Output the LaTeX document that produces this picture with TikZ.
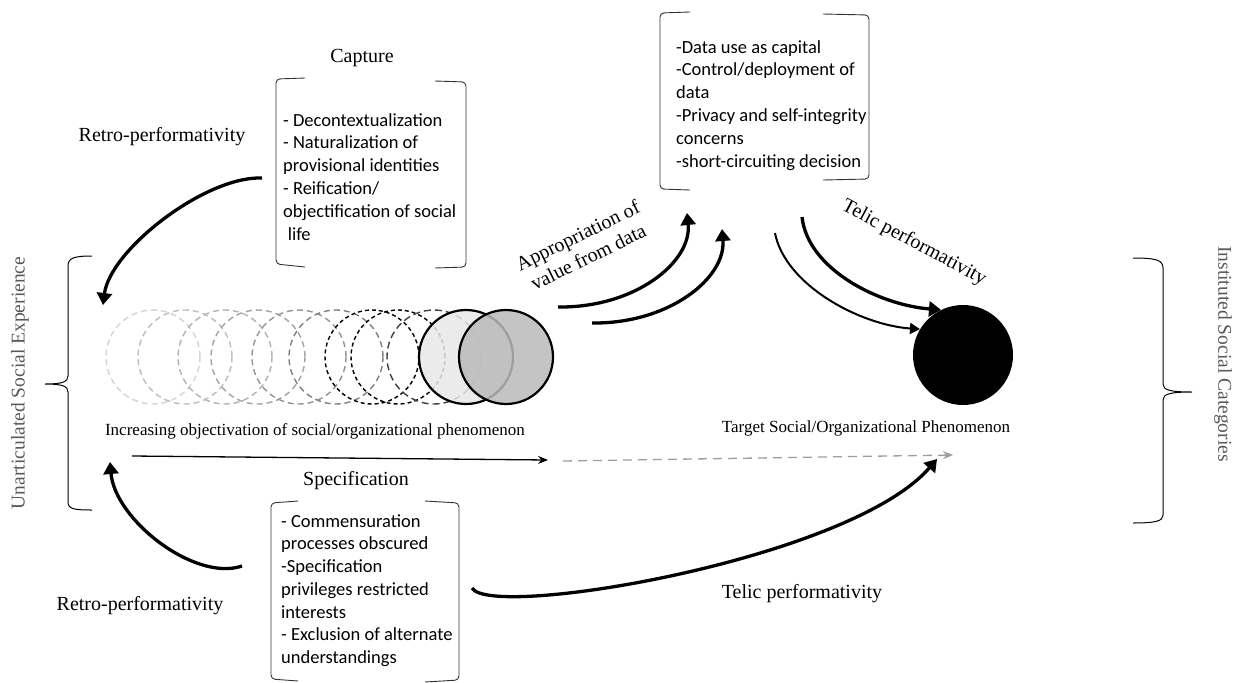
\documentclass[tikz,border=0pt]{standalone}
\usepackage{fontspec}
\setmainfont{Liberation Serif}
\setsansfont{Carlito}
\usetikzlibrary{arrows.meta}
\definecolor{sidegray}{HTML}{595959}
\tikzset{
  lbl/.style={font=\fontsize{20}{24}\selectfont},
  objlbl/.style={font=\fontsize{17}{20}\selectfont},
  sidelbl/.style={font=\fontsize{19.5}{23}\selectfont, text=sidegray},
  listtxt/.style={font=\sffamily\fontsize{18.5}{22.8}\selectfont, align=left, anchor=north west, inner sep=0pt},
  brk/.style={draw=black!80, line width=0.9pt, rounded corners=4pt},
  brace/.style={draw=black, line width=1pt},
  bendarrow/.style={line width=3.3pt, -{Triangle[length=12pt,width=15pt]}},
  ghost/.style={circle, line width=1.4pt, minimum size=94pt, inner sep=0pt, dash pattern=on 6pt off 4pt},
  solidc/.style={circle, draw=black, line width=2.2pt, minimum size=94pt, fill opacity=0.85, inner sep=0pt}
}
\begin{document}
\begin{tikzpicture}[x=1pt, y=-1pt]
\useasboundingbox (0,0) rectangle (1243,683);

\node[sidelbl, rotate=90] (unart) at (20,383) {Unarticulated Social Experience};
\node[sidelbl, rotate=-90] (inst) at (1223,354) {Instituted Social Categories};
\draw[brace] (92,256) .. controls (74,256) and (68,258) .. (68,266) -- (68,376)
  .. controls (68,382) and (62,384) .. (45,384) .. controls (62,384) and (68,386) .. (68,392)
  -- (68,502) .. controls (68,509) and (74,510) .. (92,510);
\draw[brace] (1133,258) .. controls (1156,258) and (1163,260) .. (1163,268) -- (1163,384)
  .. controls (1163,390) and (1170,392) .. (1192,392) .. controls (1170,392) and (1163,394) .. (1163,400)
  -- (1163,515) .. controls (1163,521) and (1156,523) .. (1133,523);

\node[lbl] (capture) at (362,58) {Capture};
\node[listtxt] (caplist) at (283,113) {- Decontextualization\\- Naturalization of\\provisional identities\\- Reification/\\objectification of social\\\hspace{0.25em}life};
\draw[brk] (305,78) -- (276,79) -- (276,264) -- (305,267);
\draw[brk] (435,81) -- (466,82) -- (466,267) -- (435,268);

\node[listtxt] (datalist) at (676,40) {-Data use as capital\\-Control/deployment of\\data\\-Privacy and self-integrity\\concerns\\-short-circuiting decision};
\draw[brk] (690,12) -- (660,13) -- (660,189) -- (690,190);
\draw[brk] (823,14) -- (869,15) -- (869,179) -- (823,180);

\node[lbl] (spec) at (356,481) {Specification};
\node[listtxt] (speclist) at (281,514) {- Commensuration\\processes obscured\\-Specification\\privileges restricted\\interests\\- Exclusion of alternate\\understandings};
\draw[brk] (298,501) -- (271,503) -- (271,679) -- (298,681);
\draw[brk] (425,501) -- (459,503) -- (459,680) -- (425,682);

\node[lbl] (retrotop) at (162,137) {Retro-performativity};
\node[lbl] (retrobot) at (140,606) {Retro-performativity};
\node[lbl] (telicbot) at (802,594) {Telic performativity};
\node[lbl, rotate=-28] (telictop) at (914,243) {Telic performativity};
\node[lbl, rotate=26, align=center, inner sep=0pt] (approp) at (583,246) {Appropriation of\\value from data};

\foreach \cx/\cc [count=\i] in {153/black!17, 185/black!26, 225/black!30, 258/black!36, 299/black!42, 336/black!50}
  \node[ghost, draw=\cc] (ring\i) at (\cx,357) {};
\node[ghost, draw=black, dash pattern=on 4pt off 3pt] (ring7) at (372,357) {};
\node[ghost, draw=black, dash pattern=on 4pt off 3pt] (ring8) at (398,357) {};
\node[ghost, draw=black!75, dash pattern=on 7pt off 4pt] (ring9) at (434,357) {};
\node[solidc, fill=black!9] (solid1) at (466,357) {};
\node[solidc, fill=black!27] (solid2) at (506,357) {};
\node[circle, fill=black, minimum size=100pt, inner sep=0pt] (target) at (963,355) {};

\node[objlbl] (objlbl) at (315,431) {Increasing objectivation of social/organizational phenomenon};
\node[objlbl] (tgtlbl) at (866,428) {Target Social/Organizational Phenomenon};

\coordinate (objL) at (132,456);
\coordinate (objR) at (548,460);
\coordinate (tgtL) at (563,461);
\coordinate (tgtR) at (953,455);
\draw[line width=1.3pt, -{Stealth[length=10pt,width=8pt]}] (objL) -- (objR);
\draw[black!38, line width=1.3pt, dash pattern=on 9pt off 6pt, -{Stealth[length=10pt,width=8pt]}] (tgtL) -- (tgtR);

\coordinate (rtA) at (262,178);
\coordinate (rtB) at (103,305);
\draw[bendarrow] (rtA) .. controls (205,176) and (110,250) .. (rtB);
\coordinate (rbA) at (242,566);
\coordinate (rbB) at (110,462);
\draw[bendarrow] (rbA) .. controls (195,582) and (115,520) .. (rbB);
\coordinate (apA) at (558,307);
\coordinate (apB) at (687,213);
\draw[bendarrow] (apA) .. controls (635,308) and (692,262) .. (apB);
\coordinate (apC) at (592,323);
\coordinate (apD) at (722,229);
\draw[bendarrow] (apC) .. controls (669,324) and (726,278) .. (apD);
\coordinate (tlA) at (802,217);
\draw[bendarrow] (tlA) .. controls (808,270) and (880,305) .. (target.116);
\coordinate (tlB) at (775,233);
\draw[line width=2pt, -{Triangle[length=10pt,width=11pt]}] (tlB) .. controls (785,285) and (860,325) .. (target.149);
\coordinate (tbA) at (472,588);
\coordinate (tbB) at (937,459);
\draw[bendarrow] (tbA) .. controls (490,620) and (850,560) .. (tbB);
\end{tikzpicture}
\end{document}
